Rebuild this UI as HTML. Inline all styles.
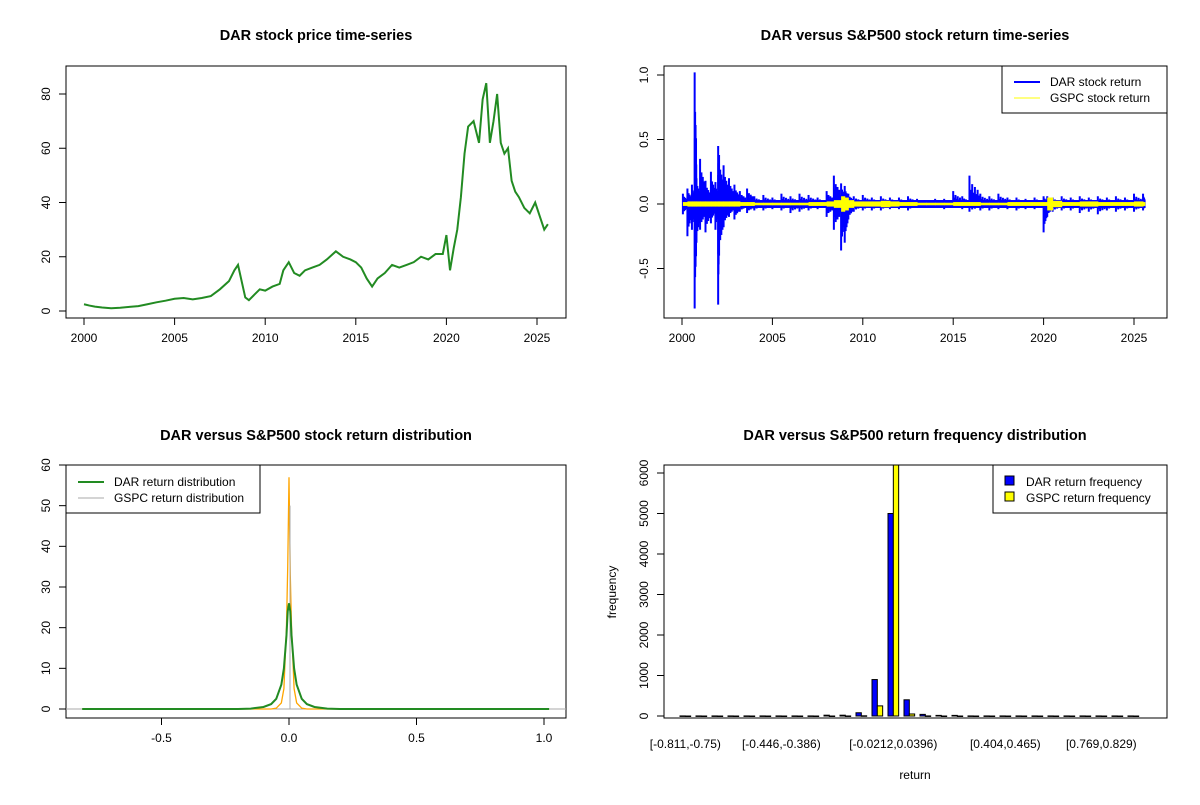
<!DOCTYPE html>
<html><head><meta charset="utf-8"><style>
body{margin:0;background:#fff;font-family:"Liberation Sans",Arial,sans-serif}
svg text{font-family:"Liberation Sans",Arial,sans-serif}
</style></head><body>
<svg id="c" width="1200" height="800" xmlns="http://www.w3.org/2000/svg"></svg>
<script>
// ---- data ----
const priceYears=[2000,2000.3,2000.6,2001,2001.5,2002,2002.5,2003,2003.5,2004,2004.5,2005,2005.5,2006,2006.5,2007,2007.5,2008,2008.3,2008.5,2008.7,2008.9,2009.1,2009.4,2009.7,2010,2010.4,2010.8,2011,2011.3,2011.6,2011.9,2012.2,2012.6,2013,2013.4,2013.9,2014.3,2014.7,2015,2015.3,2015.6,2015.9,2016.2,2016.6,2017,2017.4,2017.8,2018.2,2018.6,2019,2019.4,2019.8,2020.0,2020.2,2020.4,2020.6,2020.8,2021.0,2021.2,2021.5,2021.8,2022.0,2022.2,2022.4,2022.6,2022.8,2023.0,2023.2,2023.4,2023.6,2023.8,2024.0,2024.3,2024.6,2024.9,2025.2,2025.4,2025.6];
const priceVals=[2.5,2,1.6,1.3,1,1.2,1.5,1.8,2.5,3.2,3.8,4.5,4.8,4.3,4.8,5.5,8,11,15,17,11,5,4,6,8,7.5,9,10,15,18,14,13,15,16,17,19,22,20,19,18,16,12,9,12,14,17,16,17,18,20,19,21,21,28,15,23,30,42,58,68,70,62,78,84,62,70,80,62,58,60,48,44,42,38,36,40,34,30,32];
const retYears=[2000.05,2000.3,2000.55,2000.7,2000.8,2001.0,2001.3,2001.6,2001.85,2002.0,2002.05,2002.3,2002.6,2002.9,2003.2,2003.6,2004,2004.5,2005,2005.5,2006,2006.5,2007,2007.5,2008,2008.4,2008.8,2009.0,2009.2,2009.5,2010,2010.5,2011,2011.5,2012,2012.5,2013,2013.5,2014,2014.5,2015,2015.5,2015.9,2016.5,2017,2017.5,2018,2018.5,2019,2019.5,2020,2020.2,2020.5,2021,2021.5,2022,2022.5,2023,2023.5,2024,2024.5,2025,2025.5];
const darHigh=[0.08,0.12,0.15,1.02,0.2,0.35,0.18,0.25,0.17,0.45,0.38,0.3,0.2,0.15,0.1,0.12,0.06,0.07,0.05,0.08,0.06,0.08,0.07,0.05,0.1,0.22,0.16,0.14,0.08,0.06,0.07,0.05,0.06,0.05,0.05,0.06,0.04,0.03,0.04,0.04,0.1,0.06,0.22,0.08,0.06,0.08,0.05,0.05,0.04,0.05,0.06,0.06,0.05,0.06,0.05,0.06,0.05,0.06,0.05,0.06,0.05,0.08,0.08];
const darLow=[-0.08,-0.25,-0.2,-0.81,-0.3,-0.2,-0.22,-0.15,-0.2,-0.78,-0.4,-0.18,-0.1,-0.12,-0.06,-0.07,-0.05,-0.05,-0.04,-0.05,-0.07,-0.06,-0.05,-0.04,-0.1,-0.2,-0.36,-0.3,-0.12,-0.06,-0.05,-0.05,-0.05,-0.04,-0.04,-0.05,-0.03,-0.03,-0.03,-0.04,-0.03,-0.04,-0.06,-0.05,-0.05,-0.04,-0.04,-0.05,-0.04,-0.04,-0.22,-0.1,-0.06,-0.05,-0.05,-0.07,-0.06,-0.08,-0.05,-0.06,-0.05,-0.06,-0.05];
const gspcAmp=[0.015,0.02,0.02,0.02,0.02,0.02,0.02,0.02,0.02,0.02,0.02,0.02,0.02,0.02,0.015,0.015,0.01,0.01,0.01,0.01,0.01,0.01,0.015,0.015,0.02,0.03,0.06,0.05,0.03,0.02,0.02,0.02,0.025,0.02,0.015,0.015,0.01,0.01,0.01,0.01,0.015,0.015,0.015,0.01,0.01,0.01,0.015,0.015,0.015,0.015,0.015,0.05,0.025,0.015,0.015,0.02,0.02,0.015,0.015,0.015,0.015,0.02,0.015];
const densX=[-0.811,-0.2,-0.15,-0.1,-0.07,-0.05,-0.03,-0.02,-0.01,-0.005,0,0.005,0.01,0.02,0.03,0.05,0.07,0.1,0.15,0.2,1.02];
const darDens=[0,0,0.1,0.5,1.2,2.5,6,10,18,24,26,24,18,10,6,2.5,1.2,0.5,0.1,0,0];
const gspcDens=[0,0,0,0,0,0.2,1.5,5,20,35,57,33,20,5,1.5,0.2,0,0,0,0,0];
const binLabels=["[-0.811,-0.75)","[-0.446,-0.386)","[-0.0212,0.0396)","[0.404,0.465)","[0.769,0.829)"];
const binLabelIdx=[0,6,13,20,26];
const darFreq=[2,2,2,2,2,2,2,2,2,20,20,80,900,5000,400,40,15,15,2,2,2,2,2,2,2,2,2,2,2];
const gspcFreq=[0,0,0,0,0,0,0,0,0,0,1,5,250,6300,50,2,0,0,0,0,0,0,0,0,0,0,0,0,0];

const S=document.getElementById('c'),NS='http://www.w3.org/2000/svg';
function el(t,a,p){const e=document.createElementNS(NS,t);for(const k in a)e.setAttribute(k,a[k]);(p||S).appendChild(e);return e;}
function txt(x,y,s,a,p){const e=el('text',Object.assign({x:x,y:y,'font-size':12,fill:'#000'},a||{}),p);e.textContent=s;return e;}
function lin(d0,d1,r0,r1){return v=>r0+(v-d0)*(r1-r0)/(d1-d0);}
function frame(x0,y0,x1,y1,name){const r=el('rect',{x:x0,y:y0,width:x1-x0,height:y1-y0,fill:'none',stroke:'#000'});
}
function xaxis(ticks,sx,y,labs){const g=el('g',{});
el('line',{x1:sx(ticks[0]),x2:sx(ticks[ticks.length-1]),y1:y,y2:y+0.01,stroke:'#000'},g);
ticks.forEach((t,i)=>{el('line',{x1:sx(t),x2:sx(t),y1:y,y2:y+7,stroke:'#000'},g);txt(sx(t),y+24,labs?labs[i]:String(t),{'text-anchor':'middle'},g);});}
function yaxis(ticks,sy,x,labs){const g=el('g',{});
el('line',{x1:x,x2:x+0.01,y1:sy(ticks[0]),y2:sy(ticks[ticks.length-1]),stroke:'#000'},g);
ticks.forEach((t,i)=>{el('line',{x1:x,x2:x-7,y1:sy(t),y2:sy(t),stroke:'#000'},g);const e=txt(x-16,sy(t),labs?labs[i]:String(t),{'text-anchor':'middle',transform:`rotate(-90 ${x-16} ${sy(t)})`},g);});}
function title(x,y,s){const e=txt(x,y,s,{'font-size':14.5,'font-weight':'bold','text-anchor':'middle'});}

// Panel 1
{const sx=lin(2000,2025,84,537),sy=lin(0,80,311,94);
title(316,40,'DAR stock price time-series');frame(66,66,566,318,'price-plot-area');
xaxis([2000,2005,2010,2015,2020,2025],sx,318);yaxis([0,20,40,60,80],sy,66);
const p=el('polyline',{points:priceYears.map((y,i)=>sx(y)+','+sy(priceVals[i])).join(' '),fill:'none',stroke:'#228B22','stroke-width':2});
}

// Panel 2
{const sx=lin(2000,2025,682,1134),sy=lin(0,1,204,75);
title(915,40,'DAR versus S&P500 stock return time-series');frame(664,66,1167,318,'returns-plot-area');
xaxis([2000,2005,2010,2015,2020,2025],sx,318);yaxis([-0.5,0,0.5,1],sy,664,['-0.5','0.0','0.5','1.0']);
const g=el('g',{});
el('rect',{x:sx(2000),y:sy(0.03),width:sx(2025.6)-sx(2000),height:sy(-0.03)-sy(0.03),fill:'#0000ff'},g);
const fac=[1,0.5,0.7,0.4,0.6,0.35,0.5,0.3];
retYears.forEach((y,i)=>{const n=i+1<retYears.length?retYears[i+1]:2025.6,w=(sx(n)-sx(y))/fac.length;
fac.forEach((f,k)=>{const xx=sx(y)+k*w;
el('line',{x1:xx,x2:xx,y1:sy(Math.max(darHigh[i]*f,0.03)),y2:sy(Math.min(darLow[i]*f,-0.03)),stroke:'#0000ff','stroke-width':2},g);});});
const h=el('g',{});
retYears.forEach((y,i)=>{const n=i+1<retYears.length?retYears[i+1]:2025.6;
el('rect',{x:sx(y),y:sy(gspcAmp[i]),width:sx(n)-sx(y)+0.5,height:sy(-gspcAmp[i])-sy(gspcAmp[i]),fill:'#ffff00'},h);});
const L=el('g',{});
el('rect',{x:1002,y:66,width:165,height:47,fill:'#fff',stroke:'#000'},L);
el('line',{x1:1014,x2:1040,y1:82,y2:82,stroke:'#0000ff','stroke-width':2},L);txt(1050,86,'DAR stock return',{},L);
el('line',{x1:1014,x2:1040,y1:98,y2:98,stroke:'#ffff00'},L);txt(1050,102,'GSPC stock return',{},L);}

// Panel 3
{const sx=lin(0,1,289,544),sy=lin(0,60,709,465);
title(316,440,'DAR versus S&P500 stock return distribution');frame(66,465,566,718,'density-plot-area');
xaxis([-0.5,0,0.5,1],sx,718,['-0.5','0.0','0.5','1.0']);yaxis([0,10,20,30,40,50,60],sy,66);
el('line',{x1:66,x2:566,y1:sy(0),y2:sy(0),stroke:'#aaa'});
const o=el('polyline',{points:densX.map((x,i)=>sx(x)+','+sy(gspcDens[i])).join(' '),fill:'none',stroke:'#FFA500','stroke-width':1.3});

el('line',{x1:sx(0)+1,x2:sx(0)+1,y1:sy(0),y2:sy(50),stroke:'#aaa'});
const d=el('polyline',{points:densX.map((x,i)=>sx(x)+','+sy(darDens[i])).join(' '),fill:'none',stroke:'#228B22','stroke-width':2});

const L=el('g',{});
el('rect',{x:66,y:465,width:194,height:48,fill:'#fff',stroke:'#000'},L);
el('line',{x1:78,x2:104,y1:482,y2:482,stroke:'#228B22','stroke-width':2},L);txt(114,486,'DAR return distribution',{},L);
el('line',{x1:78,x2:104,y1:498,y2:498,stroke:'#aaa'},L);txt(114,502,'GSPC return distribution',{},L);}

// Panel 4
{const sy=lin(0,6000,716,473),n=darFreq.length,x0=680,step=16,bw=5.33;
title(915,440,'DAR versus S&P500 return frequency distribution');
const cp=el('clipPath',{id:'cp4'});el('rect',{x:664,y:465,width:503,height:253},cp);
const g=el('g',{'clip-path':'url(#cp4)'});
for(let i=0;i<n;i++){const bx=x0+i*step;
const b1=el('rect',{x:bx,y:sy(darFreq[i]),width:bw,height:Math.max(0.5,sy(0)-sy(darFreq[i])),fill:'#0000ff',stroke:'#000'},g);

const b2=el('rect',{x:bx+bw,y:sy(gspcFreq[i]),width:bw,height:Math.max(0.5,sy(0)-sy(gspcFreq[i])),fill:'#ffff00',stroke:'#000'},g);
}
frame(664,465,1167,718,'frequency-plot-area');
yaxis([0,1000,2000,3000,4000,5000,6000],sy,664);
binLabelIdx.forEach((k,i)=>txt(x0+k*step+bw,748,binLabels[i],{'text-anchor':'middle'}));
const xt=txt(915,779,'return',{'text-anchor':'middle'});
const yt=txt(616,592,'frequency',{'text-anchor':'middle',transform:'rotate(-90 616 592)'});
const L=el('g',{});
el('rect',{x:993,y:465,width:174,height:48,fill:'#fff',stroke:'#000'},L);
el('rect',{x:1005,y:476,width:9,height:9,fill:'#0000ff',stroke:'#000'},L);txt(1026,486,'DAR return frequency',{},L);
el('rect',{x:1005,y:492,width:9,height:9,fill:'#ffff00',stroke:'#000'},L);txt(1026,502,'GSPC return frequency',{},L);}
</script>
</body></html>
